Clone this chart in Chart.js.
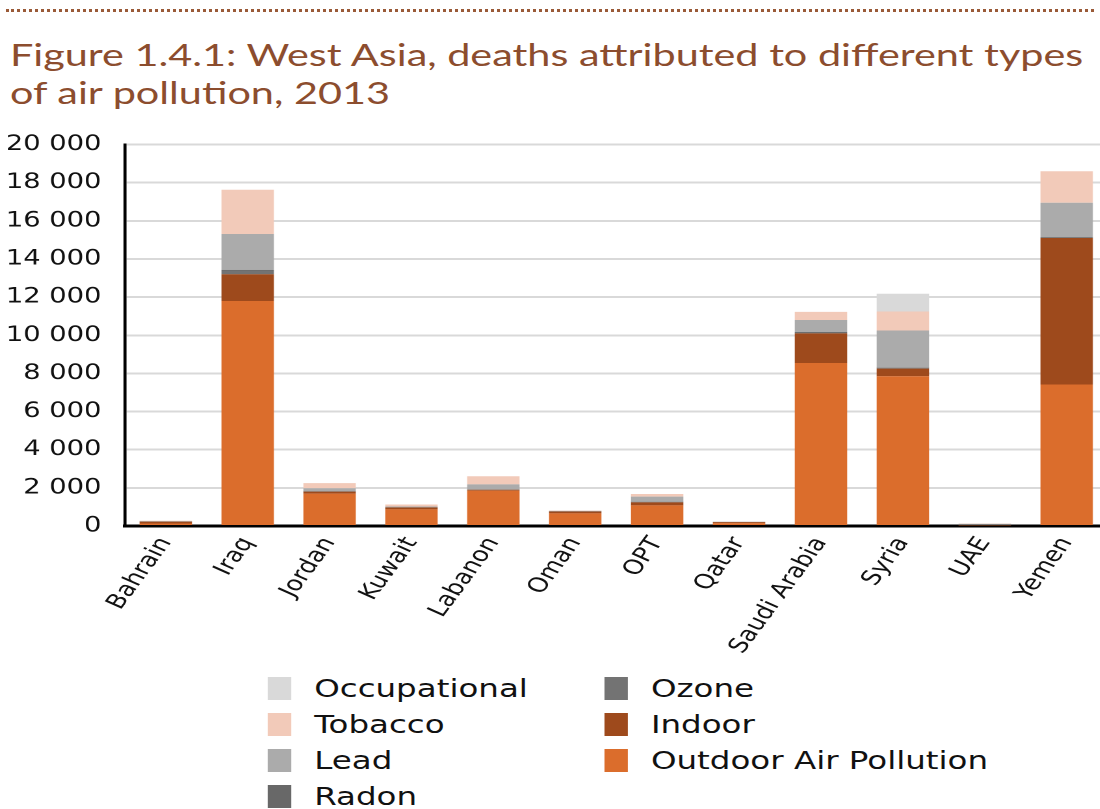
<!DOCTYPE html>
<html>
<head>
<meta charset="utf-8">
<title>West Asia air pollution deaths 2013</title>
<script src="https://cdn.jsdelivr.net/npm/chart.js@4.4.1/dist/chart.umd.min.js"></script>
<style>
  html, body { margin: 0; padding: 0; background: #fff; }
  body { width: 1100px; height: 809px; overflow: hidden; position: relative; }
  .dots { position: absolute; left: 6px; right: 6px; top: 9px; border-top: 3px dotted #9a5a38; }
  .title {
    position: absolute; left: 10px; top: 35px;
    font-family: Lato, "Open Sans", sans-serif; font-size: 31px; line-height: 38px;
    color: #8c4d2e; white-space: nowrap;
    transform: scaleX(1.335); transform-origin: 0 0;
  }
  /* the whole figure is a bit wide, so draw narrow and stretch it */
  .stretch { position: absolute; left: 0; transform: scaleX(1.3); transform-origin: 0 0; }
  #chartBox { top: 114px; width: 852px; height: 547px; }
  #legend {
    top: 670px; padding-left: 206px;
    display: grid; grid-template-columns: 259px 340px; grid-template-rows: repeat(4, 36px);
    grid-auto-flow: column;
    font-family: "DejaVu Sans", sans-serif; font-size: 25px; color: #111;
  }
  .item { display: flex; align-items: center; white-space: nowrap; }
  .sw { width: 17.7px; height: 23px; margin-right: 18px; flex: none; }
</style>
</head>
<body>
<div class="dots"></div>
<div class="title">Figure 1.4.1: West Asia, deaths attributed to different types<br>of air pollution, 2013</div>
<div class="stretch" id="chartBox"><canvas id="chart" width="852" height="547"></canvas></div>
<div class="stretch" id="legend"></div>

<script>
// Pays / catégories
const countries = ['Bahrain', 'Iraq', 'Jordan', 'Kuwait', 'Labanon', 'Oman', 'OPT', 'Qatar', 'Saudi Arabia', 'Syria', 'UAE', 'Yemen'];

// Valeurs (décès)
const outdoor      = [130, 11800, 1700, 870, 1850, 660, 1080, 150, 8550, 7850, 40, 7420];
const indoor       = [100, 1400, 100, 100, 50, 100, 160, 50, 1550, 400, 10, 7680];
const ozone        = [10, 200, 30, 10, 20, 10, 30, 5, 50, 50, 10, 30];
const radon        = [5, 30, 10, 5, 10, 5, 10, 5, 20, 20, 10, 20];
const lead         = [10, 1880, 140, 40, 250, 20, 260, 10, 630, 1930, 40, 1800];
const tobacco      = [20, 2320, 270, 100, 430, 20, 140, 10, 430, 1000, 20, 1650];
const occupational = [0, 0, 0, 0, 0, 0, 0, 0, 0, 930, 0, 0];

const yTicks = [0, 2000, 4000, 6000, 8000, 10000, 12000, 14000, 16000, 18000, 20000];

// ordre d'empilement: du bas vers le haut
const series = [
  { label: 'Outdoor Air Pollution', data: outdoor, color: '#db6d2c' },
  { label: 'Indoor', data: indoor, color: '#9e4a1c' },
  { label: 'Ozone', data: ozone, color: '#737373' },
  { label: 'Radon', data: radon, color: '#686868' },
  { label: 'Lead', data: lead, color: '#ababab' },
  { label: 'Tobacco', data: tobacco, color: '#f2cab9' },
  { label: 'Occupational', data: occupational, color: '#d9d9d9' }
];

function fmt(v) {
  return String(v).replace(/\B(?=(\d{3})+(?!\d))/g, ' ');
}

new Chart(document.getElementById('chart'), {
  type: 'bar',
  data: {
    labels: countries,
    datasets: series.map(s => ({
      label: s.label,
      data: s.data,
      backgroundColor: s.color,
      borderWidth: 0,
      categoryPercentage: 1,
      barPercentage: 0.64
    }))
  },
  options: {
    responsive: false,
    devicePixelRatio: 2,
    animation: false,
    layout: { padding: { top: 14, left: 0, right: 0, bottom: 0 } },
    plugins: { legend: { display: false }, tooltip: { enabled: false } },
    scales: {
      x: {
        stacked: true,
        grid: { display: false, drawTicks: false },
        border: { color: '#000', width: 3 },
        ticks: {
          color: '#111', autoSkip: false, minRotation: 60, maxRotation: 60, padding: 7,
          font: { family: 'DejaVu Sans', size: 20.5 }
        },
        afterFit: s => { s.height = 135; }
      },
      y: {
        stacked: true,
        min: 0, max: 20000,
        afterBuildTicks: s => { s.ticks = yTicks.map(v => ({ value: v })); },
        grid: { color: '#d9d9d9', lineWidth: 2, drawTicks: false },
        border: { color: '#000', width: 2.3 },
        ticks: {
          color: '#111', padding: 18,
          font: { family: 'DejaVu Sans', size: 21 },
          callback: v => fmt(v)
        },
        afterFit: s => { s.width = 96; }
      }
    }
  }
});

// légende en deux colonnes, ordre inverse de l'empilement
const legend = document.getElementById('legend');
series.slice().reverse().forEach(s => {
  const item = document.createElement('div');
  item.className = 'item';
  const sw = document.createElement('span');
  sw.className = 'sw';
  sw.style.background = s.color;
  const txt = document.createElement('span');
  txt.textContent = s.label;
  item.appendChild(sw);
  item.appendChild(txt);
  legend.appendChild(item);
});
</script>
</body>
</html>
